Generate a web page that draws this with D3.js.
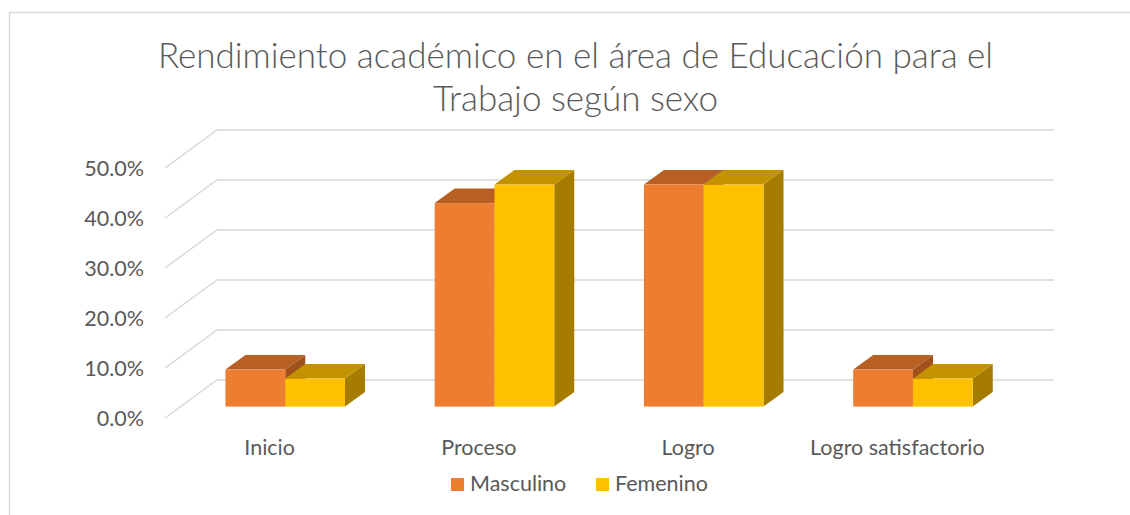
<!DOCTYPE html>
<html>
<head>
<meta charset="utf-8">
<script src="https://cdn.jsdelivr.net/npm/d3@7"></script>
<style>
  body { margin: 0; background: #fff; }
  text { font-family: Lato, "Open Sans", sans-serif; fill: #595959; }
</style>
</head>
<body>
<div id="chart"></div>
<script>
// Data
const categories = ["Inicio", "Proceso", "Logro", "Logro satisfactorio"];
const series = ["Masculino", "Femenino"];
const masculino = [0.074, 0.407, 0.444, 0.074];
const femenino = [0.056, 0.444, 0.444, 0.056];
const yTicks = [0, 0.1, 0.2, 0.3, 0.4, 0.5];
const titleLines = ["Rendimiento académico en el área de Educación para el", "Trabajo según sexo"];

const width = 1130, height = 515;
const svg = d3.select("#chart").append("svg")
  .attr("width", width)
  .attr("height", height);

// outer frame
svg.append("rect")
  .attr("x", 9.5).attr("y", 12.5)
  .attr("width", 1300).attr("height", 700)
  .attr("fill", "none")
  .attr("stroke", "#d9d9d9")
  .attr("stroke-width", 1.5);

// 3D projection: front floor, plus depth vector
const plot = {left: 165, right: 1002};
const depth = {dx: 52, dy: -38};
const barZ0 = 0.30, barZ1 = 0.685;

const y = d3.scaleLinear().domain([0, 0.5]).range([418, 168]);
const x0 = d3.scaleBand()
  .domain(categories)
  .range([plot.left, plot.right])
  .paddingInner(1.5 / 3.5)
  .paddingOuter(0.75 / 3.5);
const x1 = d3.scaleBand().domain(series).range([0, x0.bandwidth()]);

// gridlines (side wall + back wall)
yTicks.forEach(t => {
  const yf = y(t);
  svg.append("polyline")
    .attr("points", [
      [plot.left, yf],
      [plot.left + depth.dx, yf + depth.dy],
      [plot.right + depth.dx, yf + depth.dy]
    ].map(p => p.join(",")).join(" "))
    .attr("fill", "none")
    .attr("stroke", "#d9d9d9")
    .attr("stroke-width", 1.4);
});

// y tick labels
svg.append("g").selectAll("text")
  .data(yTicks)
  .join("text")
  .attr("x", 144)
  .attr("y", d => y(d))
  .attr("dy", "0.36em")
  .attr("text-anchor", "end")
  .attr("font-size", "21.5px")
  .text(d3.format(".1%"));

// bars
const colors = {
  Masculino: {front: "#ed7d31", top: "#b85f23", side: "#a0511c"},
  Femenino: {front: "#ffc000", top: "#c39200", side: "#a67c00"}
};
const values = {Masculino: masculino, Femenino: femenino};

const fx = z => depth.dx * z, fy = z => depth.dy * z;
const bars = svg.append("g");
categories.forEach((c, i) => {
  series.forEach(s => {
    const v = values[s][i];
    const xl = x0(c) + x1(s) + fx(barZ0);
    const xr = xl + x1.bandwidth();
    const yb = y(0) + fy(barZ0);
    const yt = y(v) + fy(barZ0);
    const ddx = fx(barZ1 - barZ0), ddy = fy(barZ1 - barZ0);
    const col = colors[s];
    const g = bars.append("g");
    // side
    g.append("polygon")
      .attr("points", [[xr, yt], [xr + ddx, yt + ddy], [xr + ddx, yb + ddy], [xr, yb]].map(p => p.join(",")).join(" "))
      .attr("fill", col.side);
    // top
    g.append("polygon")
      .attr("points", [[xl, yt], [xl + ddx, yt + ddy], [xr + ddx, yt + ddy], [xr, yt]].map(p => p.join(",")).join(" "))
      .attr("fill", col.top);
    // front
    g.append("rect")
      .attr("x", xl).attr("y", yt)
      .attr("width", xr - xl).attr("height", yb - yt)
      .attr("fill", col.front);
  });
});

// category labels
svg.append("g").selectAll("text")
  .data(categories)
  .join("text")
  .attr("x", d => x0(d) + x0.bandwidth() / 2)
  .attr("y", 455)
  .attr("text-anchor", "middle")
  .attr("font-size", "21.5px")
  .text(d => d);

// title
svg.append("text")
  .attr("x", 575.5)
  .attr("text-anchor", "middle")
  .attr("font-size", "35px")
  .attr("font-weight", 300)
  .selectAll("tspan")
  .data(titleLines)
  .join("tspan")
  .attr("x", 575.5)
  .attr("y", (d, i) => 68 + i * 43)
  .text(d => d);

// legend
const legendItems = [
  {name: "Masculino", color: colors.Masculino.front, x: 451},
  {name: "Femenino", color: colors.Femenino.front, x: 596}
];
const legend = svg.append("g");
legendItems.forEach(d => {
  legend.append("rect")
    .attr("x", d.x).attr("y", 478)
    .attr("width", 13).attr("height", 13)
    .attr("fill", d.color);
  legend.append("text")
    .attr("x", d.x + 19)
    .attr("y", 491)
    .attr("font-size", "21.5px")
    .text(d.name);
});
</script>
</body>
</html>
